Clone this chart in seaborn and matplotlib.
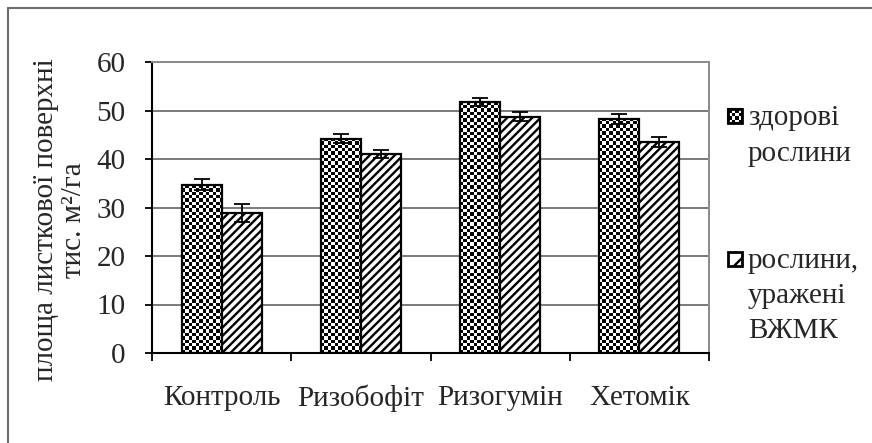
import numpy as np
import pandas as pd
import matplotlib
matplotlib.use("Agg")
import matplotlib.pyplot as plt
from matplotlib.patches import Rectangle
import seaborn as sns

treatments = ["Контроль", "Ризобофіт", "Ризогумін", "Хетомік"]
groups = ["здорові рослини", "рослини, уражені ВЖМК"]
healthy = [34.7, 44.2, 51.7, 48.3]
healthy_err = [1.1, 0.9, 0.8, 1.0]
infected = [28.9, 41.0, 48.7, 43.5]
infected_err = [1.8, 0.8, 0.9, 1.1]
y_ticks = [0, 10, 20, 30, 40, 50, 60]

df = pd.DataFrame({
    "treatment": treatments * 2,
    "group": [groups[0]] * len(treatments) + [groups[1]] * len(treatments),
    "area": healthy + infected,
})

sns.set_style("white")
plt.rcParams["font.family"] = ["Liberation Serif", "DejaVu Serif"]
plt.rcParams["hatch.linewidth"] = 1.7

W, H = 872, 443
fig = plt.figure(figsize=(W / 100, H / 100), dpi=100)
ax = fig.add_axes([152 / W, 1 - 353 / H, (709 - 152) / W, (353 - 62) / H])

sns.barplot(data=df, x="treatment", y="area", hue="group", order=treatments,
            hue_order=groups, palette=["white", "white"], saturation=1,
            width=0.575, errorbar=None, edgecolor="black", linewidth=1.6,
            legend=False, ax=ax)

ax.set_xlim(-0.5, 3.5)
ax.set_ylim(0, 60)

bars = list(ax.patches)
n = len(treatments)
healthy_bars, infected_bars = bars[:n], bars[n:]

# checkerboard fill for healthy plants (clipped image per bar)
px_x = (709 - 152) / 4.0
px_y = (353 - 62) / 60.0
cell = 3.35
for b in healthy_bars:
    x0, y0, w, h = b.get_x(), b.get_y(), b.get_width(), b.get_height()
    nx = int(np.ceil(w * px_x / cell))
    ny = int(np.ceil(h * px_y / cell))
    board = (np.add.outer(np.arange(ny), np.arange(nx)) % 2).astype(float)
    im = ax.imshow(board, cmap="gray", vmin=0, vmax=1, origin="lower",
                   extent=(x0, x0 + nx * cell / px_x, y0, y0 + ny * cell / px_y),
                   interpolation="nearest", aspect="auto", zorder=2)
    im.set_clip_path(b)
    b.set_facecolor("none")
    b.set_zorder(3)

for b in infected_bars:
    b.set_hatch("////")
    b.set_zorder(3)

ax.set_xlim(-0.5, 3.5)
ax.set_ylim(0, 60)

centers_h = [b.get_x() + b.get_width() / 2 for b in healthy_bars]
centers_i = [b.get_x() + b.get_width() / 2 for b in infected_bars]
ax.errorbar(centers_h, healthy, yerr=healthy_err, fmt="none", ecolor="black",
            elinewidth=1.3, capsize=6, capthick=1.3, zorder=4)
ax.errorbar(centers_i, infected, yerr=infected_err, fmt="none", ecolor="black",
            elinewidth=1.3, capsize=6, capthick=1.3, zorder=4)

# grid and frame
ax.set_yticks(y_ticks)
ax.yaxis.grid(True, color="#7a7a7a", linewidth=1.4)
ax.xaxis.grid(False)
ax.set_axisbelow(True)
for side in ["left", "bottom"]:
    ax.spines[side].set_color("black")
    ax.spines[side].set_linewidth(1.5)
for side in ["top", "right"]:
    ax.spines[side].set_color("#8a8a8a")
    ax.spines[side].set_linewidth(1.4)

ax.tick_params(axis="y", direction="out", length=5, width=1.3, color="black",
               labelsize=21, pad=14, left=True)
ax.set_xticks([-0.5, 0.5, 1.5, 2.5, 3.5])
ax.set_xticklabels([])
ax.set_xticks(range(n), minor=True)
ax.set_xticklabels(treatments, minor=True)
ax.tick_params(axis="x", which="major", direction="out", length=6, width=1.3,
               color="black", bottom=True)
ax.tick_params(axis="x", which="minor", length=0, labelsize=21, pad=23)
ax.set_xlabel("")
ax.set_ylabel("")

fig.text(60 / W, 1 - 220 / H, "площа листкової поверхні\nтис. м²/га",
         rotation=90, ha="center", va="center", multialignment="center",
         fontsize=21, linespacing=1.1)

# legend drawn by hand so markers line up with the first text line
def fx(px):
    return px / W

def fy(py):
    return 1 - py / H

mk = 14
m1x, m1y = 728, 109
fig.add_artist(Rectangle((fx(m1x), fy(m1y + mk)), mk / W, mk / H,
                         transform=fig.transFigure, facecolor="white",
                         edgecolor="black", linewidth=1.5))
c = mk / 4
for i in range(4):
    for j in range(4):
        if (i + j) % 2 == 0:
            fig.add_artist(Rectangle((fx(m1x + i * c), fy(m1y + (j + 1) * c)),
                                     c / W, c / H, transform=fig.transFigure,
                                     facecolor="black", edgecolor="none"))
fig.add_artist(Rectangle((fx(m1x), fy(m1y + mk)), mk / W, mk / H,
                         transform=fig.transFigure, facecolor="none",
                         edgecolor="black", linewidth=2))

m2x, m2y = 728, 252
fig.add_artist(Rectangle((fx(m2x), fy(m2y + mk)), mk / W, mk / H,
                         transform=fig.transFigure, facecolor="white",
                         edgecolor="black", linewidth=2, hatch="/"))

legend_lines = [("здорові", 125), ("рослини", 161),
                ("рослини,", 268), ("уражені", 303), ("ВЖМК", 338)]
for txt, base in legend_lines:
    fig.text(fx(748), fy(base), txt, ha="left", va="baseline", fontsize=21)

# outer chart border (only left/top visible in the crop)
fig.add_artist(Rectangle((fx(8), -0.1), 1.2, fy(8) + 0.1,
                         transform=fig.transFigure, fill=False,
                         edgecolor="#6e6e6e", linewidth=1.5))

fig.savefig("out.png", dpi=100)
